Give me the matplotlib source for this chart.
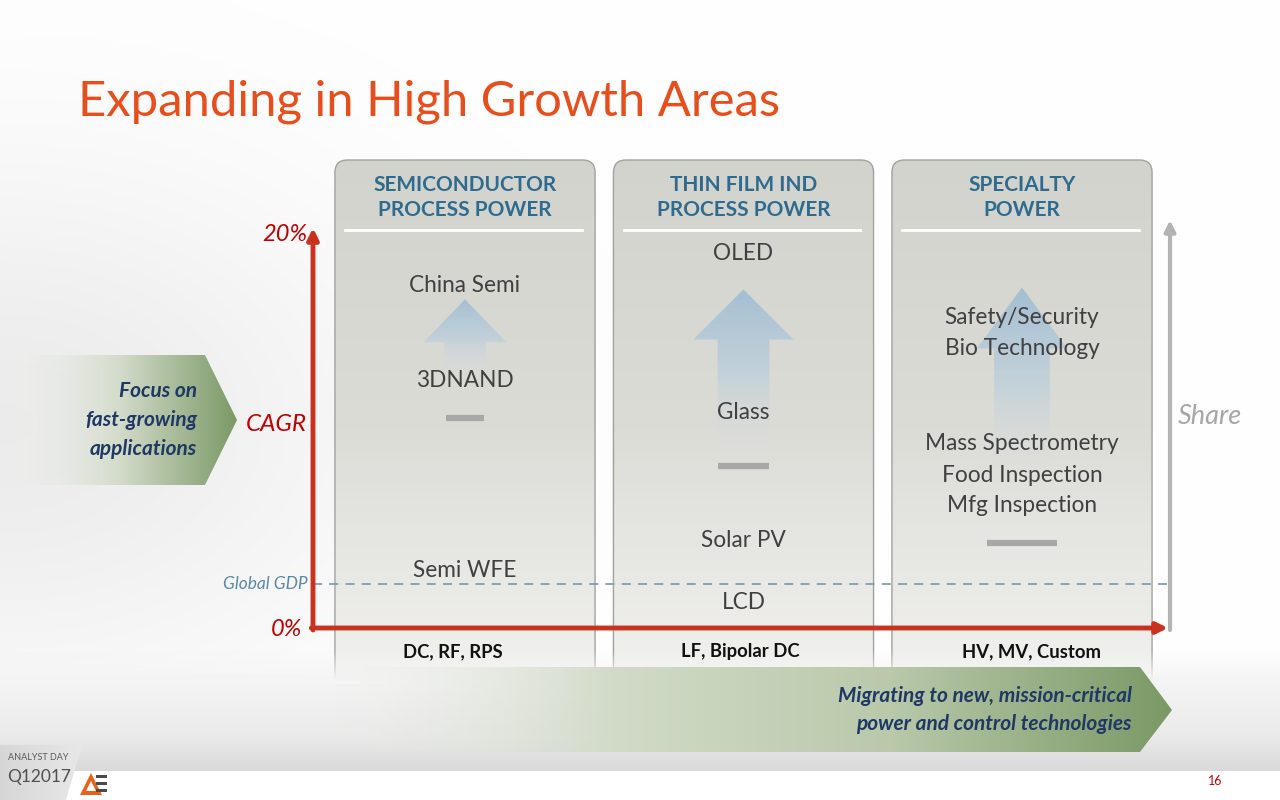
import numpy as np
import matplotlib
matplotlib.use("Agg")
import matplotlib.pyplot as plt
from matplotlib.patches import Polygon, FancyBboxPatch
from matplotlib.colors import LinearSegmentedColormap, to_rgba

plt.rcParams['font.family'] = ['Lato', 'DejaVu Sans']

# ---- data ----
segments = ['SEMICONDUCTOR\nPROCESS POWER', 'THIN FILM IND\nPROCESS POWER', 'SPECIALTY\nPOWER']
products = ['DC, RF, RPS', 'LF, Bipolar DC', 'HV, MV, Custom']
semi_apps = ['China Semi', '3DNAND', 'Semi WFE']
semi_cagr = [17.4, 12.6, 3.0]
thin_apps = ['OLED', 'Glass', 'Solar PV', 'LCD']
thin_cagr = [19.0, 11.0, 4.5, 1.4]
spec_apps = ['Safety/Security', 'Bio Technology', 'Mass Spectrometry',
             'Food Inspection', 'Mfg Inspection']
spec_cagr = [15.8, 14.2, 9.4, 7.8, 6.3]
avg_cagr = [10.6, 8.2, 4.3]      # grey bar in each column
arrow_from = [12.8, 9.0, 8.0]    # growth arrows
arrow_to = [16.6, 17.1, 17.2]
gdp_cagr = 2.2
cagr_max = 20

apps = [semi_apps, thin_apps, spec_apps]
cagrs = [semi_cagr, thin_cagr, spec_cagr]
cols = np.arange(len(segments)) + 0.5

# mapping of the chart axes onto the 1280x800 canvas
X0, XS, Y0, YS = 325.75, 278.5, 628.0, 19.8


def gradient(axis, verts, extent, colors, horizontal, zorder):
    poly = Polygon(verts, closed=True, fc='none', ec='none', zorder=zorder)
    axis.add_patch(poly)
    cmap = LinearSegmentedColormap.from_list('g', [to_rgba(c) if isinstance(c, str) else c for c in colors])
    g = np.linspace(0, 1, 256)
    arr = g[None, :] if horizontal else g[:, None]
    im = axis.imshow(arr, cmap=cmap, extent=extent, origin='lower', aspect='auto',
                     interpolation='bilinear', zorder=zorder)
    im.set_clip_path(poly)
    return poly


fig = plt.figure(figsize=(12.8, 8), dpi=100)
bg = fig.add_axes([0, 0, 1, 1])
ax = fig.add_axes([0, 0, 1, 1])
ax.patch.set_alpha(0)
fg = fig.add_axes([0, 0, 1, 1])
fg.patch.set_alpha(0)

# ---- background ----
yy, xx = np.mgrid[0:800:8, 0:1280:8]
shade = 1 - 0.075 * np.exp(-(xx / 380.0) ** 2) * np.exp(-((yy - 420) / 260.0) ** 2)
bg.imshow(np.dstack([shade, shade, shade]), extent=(0, 1280, 800, 0), aspect='auto',
          interpolation='bicubic', zorder=0)

# left chevron
gradient(bg, [(0, 355), (205, 355), (237, 420), (205, 485), (0, 485)], (0, 237, 355, 485),
         [(0.95, 0.95, 0.95, 0.0), '#d4dccb', '#7b9966'], True, 3)
bg.text(197, 420, 'Focus on\nfast-growing\napplications', ha='right', va='center',
        fontsize=15, fontweight='bold', style='italic', color='#1F3864',
        linespacing=1.55, zorder=4)
bg.set_xlim(0, 1280)
bg.set_ylim(800, 0)
bg.axis('off')

# ---- bottom strip (drawn over the panels) ----
gradient(fg, [(0, 650), (1280, 650), (1280, 740), (0, 740)], (0, 1280, 650, 740),
         [(0.965, 0.965, 0.965, 0.0), (0.96, 0.96, 0.96, 1.0), '#efefef', '#e9e9e9'], False, 1)
gradient(fg, [(0, 738), (1280, 738), (1280, 772), (0, 772)], (0, 1280, 738, 772),
         ['#e9e9e9', '#d9d9d9'], False, 1)
fg.add_patch(Polygon([(0, 771), (1280, 771), (1280, 800), (0, 800)], fc='white', ec='none', zorder=2))
gradient(fg, [(0, 745), (82, 745), (66, 800), (0, 800)], (0, 82, 745, 800),
         ['#d6d6d6', '#e8e8e8'], True, 3)
gradient(fg, [(330, 667), (1140, 667), (1172, 710), (1140, 752), (330, 752)], (330, 1172, 667, 752),
         [(0.93, 0.93, 0.92, 0.0), '#d2dbc8', '#b9c9aa', '#7b9966'], True, 3)
fg.text(1132, 710, 'Migrating to new, mission-critical\npower and control technologies',
        ha='right', va='center', multialignment='right', fontsize=15, fontweight='bold',
        style='italic', color='#1F3864', linespacing=1.5, zorder=4)

# logo
fg.text(8, 758, 'ANALYST DAY', fontsize=6.5, color='#5a5a5a', va='center', zorder=5)
fg.text(7, 777, 'Q12017', fontsize=12.5, color='#505050', va='center', zorder=5)
fg.add_patch(Polygon([(80, 795), (91, 773), (102, 795)], fc='#E8601C', ec='none', zorder=5))
fg.add_patch(Polygon([(86, 791), (91, 781), (96, 791)], fc='white', ec='none', zorder=6))
for yb in (775, 782, 789):
    fg.add_patch(Polygon([(96, yb), (107, yb), (107, yb + 3), (96, yb + 3)], fc='#4a4a4a', ec='none', zorder=7))
fg.set_xlim(0, 1280)
fg.set_ylim(800, 0)
fg.axis('off')

# ---- title / page number ----
fig.text(78 / 1280, 1 - 102 / 800, 'Expanding in High Growth Areas', fontsize=35.3,
         color='#E84E1B', va='center', ha='left')
fig.text(1215 / 1280, 1 - 781 / 800, '16', fontsize=9, color='#C00000', ha='center', va='center')

# ---- chart ----
ax_left = (313 - X0) / XS
ax_right = (1168 - X0) / XS
share_x = (1170 - X0) / XS
panel_top = (Y0 - 160) / YS
panel_bot = (Y0 - 700) / YS
half_w = 0.467

for c in cols:
    box = FancyBboxPatch((c - half_w, panel_bot), 2 * half_w, panel_top - panel_bot,
                         boxstyle='round,pad=0,rounding_size=0.045', mutation_aspect=XS / YS,
                         fc='none', ec='#a2a29d', lw=1.0, zorder=3)
    ax.add_patch(box)
    im = ax.imshow(np.linspace(0, 1, 256)[:, None],
                   cmap=LinearSegmentedColormap.from_list('p', ['#d3d3cd', '#dcdcd7', '#f3f3f1']),
                   extent=(c - half_w, c + half_w, panel_top, panel_bot), origin='lower',
                   aspect='auto', interpolation='bilinear', zorder=2)
    im.set_clip_path(box)
    # separator under header
    ax.plot([c - 0.43, c + 0.42], [20.1, 20.1], color='white', lw=2, zorder=5)

# growth arrows
head_half = [0.149, 0.180, 0.162]
shaft_half = [0.075, 0.093, 0.100]
head_len = [2.17, 2.53, 3.08]
for c, b, t, hw, sw, hl in zip(cols, arrow_from, arrow_to, head_half, shaft_half, head_len):
    verts = [(c - sw, b), (c - sw, t - hl), (c - hw, t - hl), (c, t),
             (c + hw, t - hl), (c + sw, t - hl), (c + sw, b)]
    gradient(ax, verts, (c - hw, c + hw, t, b),
             [(0.64, 0.75, 0.83, 1.0), (0.72, 0.80, 0.86, 0.7), (0.85, 0.87, 0.88, 0.0)], False, 5)

# average markers
bar_half = [0.067, 0.090, 0.126]
for c, a, h in zip(cols, avg_cagr, bar_half):
    ax.plot([c - h, c + h], [a, a], color='#a8a8a8', lw=4.5, solid_capstyle='butt', zorder=6)

# application labels
for c, names, vals in zip(cols, apps, cagrs):
    for n, v in zip(names, vals):
        ax.text(c, v, n, ha='center', va='center_baseline', fontsize=16.3, color='#404040', zorder=7)

# headers and product labels (product labels are drawn on the front layer)
prod_shift = [-12, -3, 10]
for c, s, p, dx in zip(cols, segments, products, prod_shift):
    ax.text(c, 21.75, s, ha='center', va='center', fontsize=15, fontweight='bold',
            color='#2E6B8E', linespacing=1.3, zorder=7)
    fg.text(X0 + c * XS + dx, 652, p, ha='center', va='center', fontsize=13.3, fontweight='bold',
            color='#111111', zorder=7)

# global GDP reference
ax.plot([ax_left, share_x], [gdp_cagr, gdp_cagr], ls=(0, (5, 4)), color='#7F9DB5', lw=1.3, zorder=6)
ax.text(ax_left - 0.02, gdp_cagr, 'Global GDP', ha='right', va='center', fontsize=12.5,
        style='italic', color='#5B87A9', zorder=7)

# axes arrows
ax.annotate('', xy=(share_x, cagr_max + 0.6), xytext=(share_x, -0.1),
            arrowprops=dict(arrowstyle='-|>', color='#b3b3b3', lw=3, mutation_scale=16,
                            shrinkA=0, shrinkB=0), zorder=6)
ax.annotate('', xy=(ax_right, 0), xytext=(ax_left - 0.006, 0),
            arrowprops=dict(arrowstyle='-|>', color='#C9321F', lw=3.5, mutation_scale=16,
                            shrinkA=0, shrinkB=0), zorder=8)
ax.annotate('', xy=(ax_left, cagr_max + 0.2), xytext=(ax_left, -0.1),
            arrowprops=dict(arrowstyle='-|>', color='#C9321F', lw=3.5, mutation_scale=16,
                            shrinkA=0, shrinkB=0), zorder=8)

ax.text(ax_left - 0.021, cagr_max - 0.15, f'{cagr_max}%', ha='right', va='center',
        fontsize=17, style='italic', color='#C00000')
ax.text(ax_left - 0.04, -0.1, '0%', ha='right', va='center', fontsize=17,
        style='italic', color='#C00000')
ax.text(ax_left - 0.021, 10.3, 'CAGR', ha='right', va='center', fontsize=17.5,
        style='italic', color='#C00000')
ax.text(share_x + 0.028, 10.7, 'Share', ha='left', va='center', fontsize=19.5,
        style='italic', color='#A6A6A6')

ax.set_xlim((0 - X0) / XS, (1280 - X0) / XS)
ax.set_ylim((Y0 - 800) / YS, Y0 / YS)
ax.axis('off')

fig.savefig('out.png', dpi=100)
